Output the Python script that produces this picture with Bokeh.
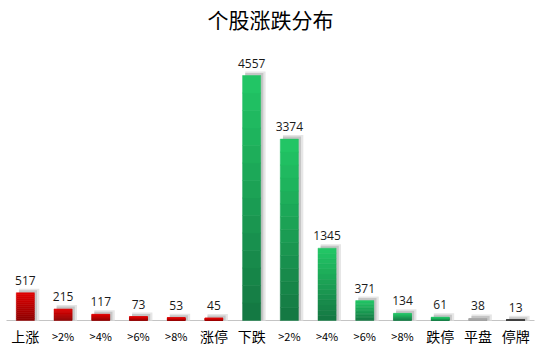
from bokeh.plotting import figure
from bokeh.models import ColumnDataSource, Label
from bokeh.core.properties import value
from bokeh.embed import file_html
from bokeh.resources import INLINE

# ---- data ----
categories = ["上涨", ">2%", ">4%", ">6%", ">8%", "涨停",
              "下跌", ">2%", ">4%", ">6%", ">8%", "跌停", "平盘", "停牌"]
counts = [517, 215, 117, 73, 53, 45, 4557, 3374, 1345, 371, 134, 61, 38, 13]
groups = ["up"] * 6 + ["down"] * 6 + ["flat", "halt"]
title_text = "个股涨跌分布"

# ---- style ----
top_colors = {"up": (226, 0, 0), "down": (34, 200, 102), "flat": (170, 170, 170), "halt": (70, 70, 70)}
bot_colors = {"up": (140, 0, 0), "down": (20, 118, 66), "flat": (160, 160, 160), "halt": (50, 50, 50)}

W, H = 540, 350
px_per_unit = 245.0 / 4557.0        # vertical scale (pixels per count)
base_px = 320                        # baseline from top
x_px_per = 37.7
x0 = -0.5 - 6 / x_px_per
x1 = 13.5 + 6 / x_px_per
y0 = -(H - base_px) / px_per_unit
y1 = base_px / px_per_unit

p = figure(width=W, height=H, x_range=(x0, x1), y_range=(y0, y1),
           output_backend="svg", toolbar_location=None,
           min_border=0, min_border_left=0, min_border_right=0,
           min_border_top=0, min_border_bottom=0)
p.xaxis.visible = False
p.yaxis.visible = False
p.xgrid.visible = False
p.ygrid.visible = False
p.outline_line_color = None
p.background_fill_color = "white"
p.border_fill_color = "white"

xs = list(range(len(counts)))
bw = 0.48
u = 1.0 / px_per_unit  # one pixel in data units

# baseline
p.segment(x0=[-0.5], y0=[0], x1=[13.5], y1=[0], line_color="#c4c4c4", line_width=1)

# shadows
p.vbar(x=[x + 0.10 for x in xs], top=[c + 4 * u for c in counts], bottom=0, width=bw + 0.06,
       fill_color="#e6e6e6", line_color=None)
p.vbar(x=[x + 0.07 for x in xs], top=[c + 2.5 * u for c in counts], bottom=0, width=bw,
       fill_color="#c6c6c6", line_color=None)

# gradient bars, drawn as stacked slices of each bar
N = 14
sx, sb, st, sc = [], [], [], []
for x, c, g in zip(xs, counts, groups):
    for i in range(N):
        f = (i + 0.5) / N
        t, b = top_colors[g], bot_colors[g]
        col = tuple(int(round(b[k] + (t[k] - b[k]) * f)) for k in range(3))
        sx.append(x)
        sb.append(c * i / N)
        st.append(c * (i + 1) / N)
        sc.append("#%02x%02x%02x" % col)
p.vbar(x="x", top="top", bottom="bottom", width=bw, fill_color="color", line_color="color",
       line_width=0.5, source=ColumnDataSource(dict(x=sx, top=st, bottom=sb, color=sc)))

# value labels
p.text(x=xs, y=counts, text=[str(c) for c in counts], text_align="center",
       text_baseline="bottom", y_offset=-8, text_font=value("Open Sans"),
       text_font_size="12px", text_color="#1a1a1a")

# category labels (below baseline)
sizes = ["14px" if not c.startswith(">") else "11px" for c in categories]
src_lab = ColumnDataSource(dict(x=xs, y=[0] * len(xs), t=categories, fs=sizes))
p.text(x="x", y="y", text="t", text_font_size="fs", text_align="center", text_baseline="middle",
       y_offset=15, text_font=value("Noto Sans CJK SC"), text_color="#000000", source=src_lab)

# title
p.add_layout(Label(x=(x0 + x1) / 2, y=(base_px - 18) / px_per_unit, text=title_text,
                   text_align="center", text_baseline="middle", text_font="Noto Sans CJK SC",
                   text_font_size="21px", text_color="#000000"))

open("out.html", "w").write(file_html(p, INLINE))
